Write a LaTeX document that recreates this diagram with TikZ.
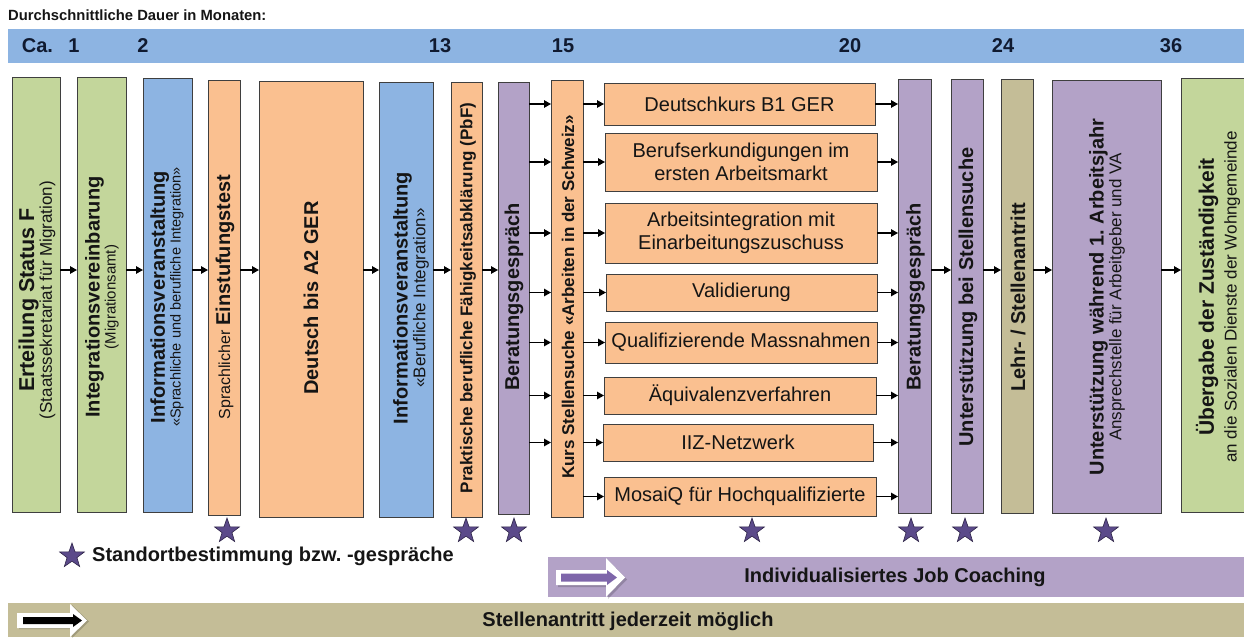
\documentclass[tikz,border=0pt]{standalone}
\usepackage{fontspec}
\setmainfont{Liberation Sans}
\usetikzlibrary{arrows.meta,shapes.geometric}
\frenchspacing

\definecolor{ink}{HTML}{151515}
\definecolor{numink}{HTML}{101A30}
\definecolor{edge}{HTML}{3F3F3F}
\definecolor{fgreen}{HTML}{C3D69B}
\definecolor{fblue}{HTML}{8DB4E2}
\definecolor{forange}{HTML}{FAC090}
\definecolor{fpurple}{HTML}{B3A2C7}
\definecolor{ftan}{HTML}{C4BD97}
\definecolor{starfill}{HTML}{5B4A8A}
\definecolor{staredge}{HTML}{2E2448}
\definecolor{arrowpurple}{HTML}{7E66AA}

\newcommand\fsz[2]{\fontsize{#1}{#2}\selectfont}

\tikzset{
  colbox/.style={draw=edge, line width=1pt, inner sep=0pt, outer sep=0pt},
  vlabel/.style={rotate=90, align=center, inner sep=0pt, text=ink},
  offerbox/.style={draw=edge, line width=1pt, fill=forange, inner sep=0pt,
    outer sep=0pt, align=center, font=\fsz{20}{23}, text=ink},
  flow/.style={draw=black, line width=1.3pt, -{Triangle[length=7pt,width=7.5pt]}},
  rating/.style={star, star points=5, star point ratio=2.5, minimum size=26pt,
    inner sep=0pt, fill=starfill, draw=staredge, line width=0.6pt},
  month/.style={font=\fsz{20}{22}\bfseries, text=numink, inner sep=0pt},
  bandtext/.style={font=\fsz{20}{22}\bfseries, text=ink, inner sep=0pt},
}

\begin{document}
\begin{tikzpicture}[x=1pt,y=-1pt]
\useasboundingbox (0,0) rectangle (1244,637);

% heading and month scale
\node[anchor=west, font=\fsz{14.8}{16}\bfseries, text=ink, inner sep=0pt] (title) at (8,15)
  {Durchschnittliche Dauer in Monaten:};
\node[fill=fblue, minimum width=1236pt, minimum height=34pt, inner sep=0pt,
  anchor=north west] (months) at (8,29) {};
\node[month] (m0) at (37.5,46) {Ca.};
\node[month] (m1) at (74,46) {1};
\node[month] (m2) at (143,46) {2};
\node[month] (m13) at (440,46) {13};
\node[month] (m15) at (563,46) {15};
\node[month] (m20) at (850,46) {20};
\node[month] (m24) at (1003,46) {24};
\node[month] (m36) at (1171,46) {36};

% vertical process columns
\node[colbox, fill=fgreen,  minimum width=48pt,  minimum height=435pt] (b1)  at (36,294.5) {};
\node[colbox, fill=fgreen,  minimum width=49pt,  minimum height=435pt] (b2)  at (101.5,294.5) {};
\node[colbox, fill=fblue,   minimum width=49pt,  minimum height=434pt] (b3)  at (167.5,295) {};
\node[colbox, fill=forange, minimum width=32pt,  minimum height=435pt] (b4)  at (224,297.5) {};
\node[colbox, fill=forange, minimum width=104pt, minimum height=436pt] (b5)  at (311,299) {};
\node[colbox, fill=fblue,   minimum width=54pt,  minimum height=435pt] (b6)  at (406,299.5) {};
\node[colbox, fill=forange, minimum width=31pt,  minimum height=435pt] (b7)  at (466.5,299.5) {};
\node[colbox, fill=fpurple, minimum width=31pt,  minimum height=432pt] (b8)  at (513.5,298) {};
\node[colbox, fill=forange, minimum width=32pt,  minimum height=437pt] (b9)  at (567,298.5) {};
\node[colbox, fill=fpurple, minimum width=33pt,  minimum height=434pt] (b10) at (914.5,296) {};
\node[colbox, fill=fpurple, minimum width=32pt,  minimum height=434pt] (b11) at (967,296) {};
\node[colbox, fill=ftan,    minimum width=32pt,  minimum height=434pt] (b12) at (1017,296) {};
\node[colbox, fill=fpurple, minimum width=109pt, minimum height=433pt] (b13) at (1106.5,296.5) {};
\node[colbox, fill=fgreen,  minimum width=66pt,  minimum height=434pt] (b14) at (1214,295) {};

% column labels
\node[vlabel] (t1) at (37,300)
  {{\fsz{21.5}{23}\bfseries Erteilung Status F}\\{\fsz{17}{19}(Staatssekretariat für Migration)}};
\node[vlabel] (t2) at (102,297)
  {{\fsz{20}{22}\bfseries Integrationsvereinbarung}\\{\fsz{15}{17}(Migrationsamt)}};
\node[vlabel] (t3) at (167,297)
  {{\fsz{20}{21}\bfseries Informationsveranstaltung}\\{\fsz{14.5}{16}«Sprachliche und berufliche Integration»}};
\node[vlabel] (t4) at (225,297)
  {{\fsz{16}{17}Sprachlicher }{\fsz{20}{22}\bfseries Einstufungstest}};
\node[vlabel, font=\fsz{20}{22}\bfseries] (t5) at (311,298) {Deutsch bis A2 GER};
\node[vlabel] (t6) at (411,298)
  {{\fsz{20}{21}\bfseries Informationsveranstaltung}\\{\fsz{17}{19}«Berufliche Integration»}};
\node[vlabel, font=\fsz{17}{19}\bfseries] (t7) at (468,298)
  {Praktische berufliche Fähigkeitsabklärung (PbF)};
\node[vlabel, font=\fsz{20}{22}\bfseries] (t8) at (514,297) {Beratungsgespräch};
\node[vlabel, font=\fsz{17}{19}\bfseries] (t9) at (568,297)
  {Kurs Stellensuche «Arbeiten in der Schweiz»};
\node[vlabel, font=\fsz{20}{22}\bfseries] (t10) at (915.5,297) {Beratungsgespräch};
\node[vlabel, font=\fsz{20}{22}\bfseries] (t11) at (968,297) {Unterstützung bei Stellensuche};
\node[vlabel, font=\fsz{20}{22}\bfseries] (t12) at (1018,297) {Lehr- / Stellenantritt};
\node[vlabel] (t13) at (1107,297)
  {{\fsz{20}{22}\bfseries Unterstützung während 1. Arbeitsjahr}\\{\fsz{17}{19}Ansprechstelle für Arbeitgeber und VA}};
\node[vlabel] (t14) at (1218,297)
  {{\fsz{21}{22}\bfseries Übergabe der Zuständigkeit}\\[5pt]{\fsz{17}{19}an die Sozialen Dienste der Wohngemeinde}};

% parallel offers
\node[offerbox, minimum width=271pt, minimum height=42pt] (d1) at (739.5,104) {Deutschkurs B1 GER};
\node[offerbox, minimum width=272pt, minimum height=58pt] (d2) at (741,162) {Berufserkundigungen im\\ersten Arbeitsmarkt};
\node[offerbox, minimum width=272pt, minimum height=60pt] (d3) at (741,233) {Arbeitsintegration mit\\Einarbeitungszuschuss};
\node[offerbox, minimum width=271pt, minimum height=37pt] (d4) at (741.5,292.5) {Validierung};
\node[offerbox, minimum width=272pt, minimum height=41pt] (d5) at (741,342.5) {Qualifizierende Massnahmen};
\node[offerbox, minimum width=272pt, minimum height=37pt] (d6) at (740,395.5) {Äquivalenzverfahren};
\node[offerbox, minimum width=270pt, minimum height=37pt] (d7) at (738,442.5) {IIZ-Netzwerk};
\node[offerbox, minimum width=272pt, minimum height=39pt] (d8) at (740,496.5) {MosaiQ für Hochqualifizierte};

% main flow
\coordinate (axis) at (0,270);
\foreach \a/\b in {b1/b2,b2/b3,b3/b4,b4/b5,b5/b6,b6/b7,b7/b8,b10/b11,b11/b12,b12/b13,b13/b14}
  \draw[flow] (\a.east |- axis) -- (\b.west |- axis);
\foreach \d in {d1,d2,d3,d4,d5,d6,d7}
  \draw[flow] (b8.east |- \d.west) -- (b9.west |- \d.west);
\foreach \d in {d1,d2,d3,d4,d5,d6,d7,d8}{
  \draw[flow] (b9.east |- \d.west) -- (\d.west);
  \draw[flow] (\d.east) -- (b10.west |- \d.east);
}

% assessment markers
\node[rating] (s1) at (227,531) {};
\node[rating] (s2) at (466,531) {};
\node[rating] (s3) at (514,531) {};
\node[rating] (s4) at (752,531) {};
\node[rating] (s5) at (911,531) {};
\node[rating] (s6) at (965,531) {};
\node[rating] (s7) at (1106,531) {};
\node[rating] (skey) at (72,556) {};
\node[anchor=west, font=\fsz{20}{22}\bfseries, text=ink, inner sep=0pt] (keytext) at (92,556)
  {Standortbestimmung bzw. -gespräche};

% job coaching band
\node[fill=fpurple, minimum width=696pt, minimum height=40pt, inner sep=0pt,
  anchor=north west] (coach) at (548,557) {};
\begin{scope}[shift={(2,2)}]
  \fill[black, opacity=0.18] (556,570) -- (606,570) -- (606,558) -- (625,577.5) -- (606,597) -- (606,585) -- (556,585) -- cycle;
\end{scope}
\fill[white] (556,570) -- (606,570) -- (606,558) -- (625,577.5) -- (606,597) -- (606,585) -- (556,585) -- cycle;
\fill[arrowpurple] (561,573.5) -- (607,573.5) -- (607,570) -- (617,577.5) -- (607,585) -- (607,581.5) -- (561,581.5) -- cycle;
\node[bandtext] (coachtext) at (895,577) {Individualisiertes Job Coaching};

% anytime band
\node[fill=ftan, minimum width=1236pt, minimum height=34pt, inner sep=0pt,
  anchor=north west] (anytime) at (8,603) {};
\begin{scope}[shift={(2,1)}]
  \fill[black, opacity=0.18] (17,613) -- (70,613) -- (70,604) -- (87,620.5) -- (70,637) -- (70,628) -- (17,628) -- cycle;
\end{scope}
\fill[white] (17,613) -- (70,613) -- (70,604) -- (87,620.5) -- (70,637) -- (70,628) -- (17,628) -- cycle;
\fill[black] (23,617) -- (73,617) -- (73,614) -- (82,620.5) -- (73,627) -- (73,624) -- (23,624) -- cycle;
\node[bandtext] (anytimetext) at (628,621) {Stellenantritt jederzeit möglich};
\end{tikzpicture}
\end{document}
